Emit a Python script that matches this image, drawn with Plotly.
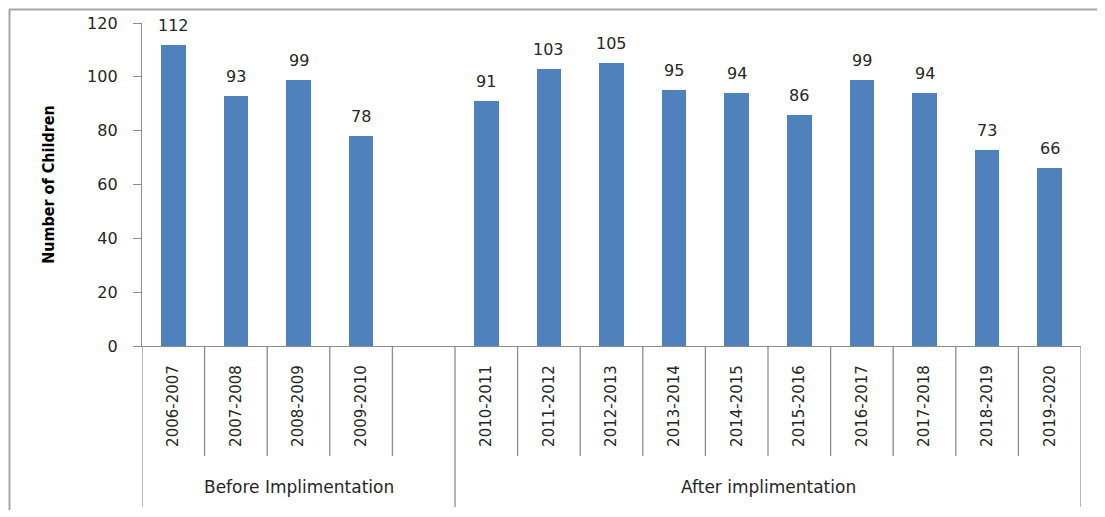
import plotly.graph_objects as go

# ---- data ----
before_labels = ["2006-2007", "2007-2008", "2008-2009", "2009-2010"]
before_values = [112, 93, 99, 78]
after_labels = ["2010-2011", "2011-2012", "2012-2013", "2013-2014", "2014-2015",
                "2015-2016", "2016-2017", "2017-2018", "2018-2019", "2019-2020"]
after_values = [91, 103, 105, 95, 94, 86, 99, 94, 73, 66]
group_names = ["Before Implimentation", "After implimentation"]
y_ticks = [0, 20, 40, 60, 80, 100, 120]

# slot positions: before group has one trailing empty slot (as in the original)
n_before_slots = len(before_labels) + 1
before_x = list(range(len(before_labels)))
after_x = [n_before_slots + i for i in range(len(after_labels))]
n_slots = n_before_slots + len(after_labels)

xs = before_x + after_x
vals = before_values + after_values
labels = before_labels + after_labels

BAR = "#4F81BD"
GRAY = "#8c8c8c"
TXT = "#262626"

fig = go.Figure()
fig.add_trace(go.Bar(
    x=xs, y=vals, width=0.39,
    marker=dict(color=BAR, line=dict(width=0)),
    showlegend=False, hoverinfo="x+y",
))

# page has an 8px body margin: figure is drawn from (8, 8)
OFF = 8
W, H = 1105 - OFF, 517 - OFF
ML, MT = 142 - OFF, 23 - OFF
MR = W - (1081 - OFF)
MB = H - (346 - OFF)
PH = H - MT - MB
PW = W - ML - MR

def py(pix):  # screen pixel y -> paper y
    return (346 - pix) / PH

def px(pix):  # screen pixel x -> paper x
    return (pix - 142) / PW

shapes = []
group_bounds = [-0.5, n_before_slots - 0.5, n_slots - 0.5]
for b in range(1, n_slots):
    xb = b - 0.5
    if xb in group_bounds:
        continue
    shapes.append(dict(type="line", xref="x", yref="paper", x0=xb, x1=xb,
                       y0=0, y1=py(456), line=dict(color=GRAY, width=1.3)))
for xb in group_bounds:
    shapes.append(dict(type="line", xref="x", yref="paper", x0=xb, x1=xb,
                       y0=0, y1=py(507), line=dict(color=GRAY, width=1.3)))
# outer chart border (top and left visible)
shapes.append(dict(type="line", xref="paper", yref="paper", x0=px(9), x1=px(1100),
                   y0=py(9.5), y1=py(9.5), line=dict(color="#a6a6a6", width=2)))
shapes.append(dict(type="line", xref="paper", yref="paper", x0=px(9.5), x1=px(9.5),
                   y0=py(9.5), y1=py(510), line=dict(color="#a6a6a6", width=2)))

annotations = []
# value labels above the bars
for x, v in zip(xs, vals):
    annotations.append(dict(x=x, y=v, xref="x", yref="y", text=str(v), showarrow=False,
                            yanchor="bottom", yshift=8,
                            font=dict(family="DejaVu Sans", size=16, color=TXT)))
group_centers = [(group_bounds[0] + group_bounds[1]) / 2, (group_bounds[1] + group_bounds[2]) / 2]
for name, c in zip(group_names, group_centers):
    annotations.append(dict(x=c, y=py(487), xref="x", yref="paper", text=name,
                            showarrow=False, font=dict(family="DejaVu Sans", size=17, color=TXT),
                            xanchor="center", yanchor="middle"))

fig.update_layout(
    template="none",
    width=W, height=H,
    margin=dict(l=ML, r=MR, t=MT, b=MB, autoexpand=False),
    paper_bgcolor="white", plot_bgcolor="white",
    shapes=shapes, annotations=annotations,
    bargap=0,
    xaxis=dict(
        range=[-0.5, n_slots - 0.5], automargin=False,
        tickvals=xs, ticktext=labels, tickangle=-90,
        tickfont=dict(family="DejaVu Sans", size=15, color=TXT),
        ticks="", showgrid=False, zeroline=False,
        showline=True, linecolor=GRAY, linewidth=1.3,
        ticklabelstandoff=12,
    ),
    yaxis=dict(
        range=[0, 120], tickvals=y_ticks, automargin=False,
        tickfont=dict(family="DejaVu Sans", size=16, color=TXT),
        ticks="outside", ticklen=8, tickcolor=GRAY, tickwidth=1.3,
        showgrid=False, zeroline=False,
        showline=True, linecolor=GRAY, linewidth=1.3,
        ticklabelstandoff=12,
        title=dict(text="Number of Children", standoff=28,
                   font=dict(family="Liberation Sans Narrow, DejaVu Sans Condensed, sans-serif",
                             size=16, color="#000000", weight="bold")),
    ),
)

fig.write_html("out.html")
